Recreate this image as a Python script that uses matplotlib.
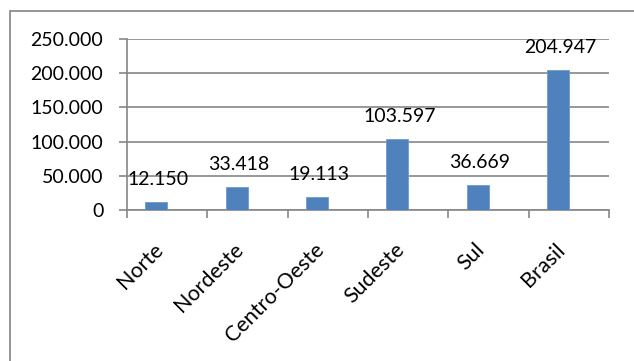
import numpy as np
import matplotlib.pyplot as plt
import matplotlib.transforms as mtransforms
from matplotlib.patches import Rectangle

regioes = ["Norte", "Nordeste", "Centro-Oeste", "Sudeste", "Sul", "Brasil"]
valores = [12150, 33418, 19113, 103597, 36669, 204947]
rotulos = ["12.150", "33.418", "19.113", "103.597", "36.669", "204.947"]
y_ticks = [0, 50000, 100000, 150000, 200000, 250000]
y_labels = ["0", "50.000", "100.000", "150.000", "200.000", "250.000"]

plt.rcParams["font.family"] = ["Lato", "DejaVu Sans"]
FS = 14

fig = plt.figure(figsize=(6.34, 3.61), dpi=100)
ax = fig.add_axes([127 / 634, 151 / 361, (609 - 127) / 634, 171 / 361])

# outer chart border (left and top visible)
fig.patches.append(Rectangle((10 / 634, -0.1), 1.2, 350 / 361 + 0.1,
                             transform=fig.transFigure, fill=False,
                             edgecolor="#8c8c8c", linewidth=1.3))

x = np.arange(len(regioes))
w = 0.27
ax.bar(x - w / 2, valores, width=w, color="#4F81BD", edgecolor="#6f9ad0",
       linewidth=0.6, zorder=3)

for xi, v, lab in zip(x, valores, rotulos):
    ax.annotate(lab, (xi - w / 2, v), xytext=(1.5, 12),
                textcoords="offset points", ha="center", va="baseline",
                fontsize=FS, color="black")

ax.set_xlim(-0.5, len(regioes) - 0.5)
ax.set_ylim(0, 250000)

ax.set_yticks(y_ticks)
ax.set_yticklabels(y_labels, fontsize=FS)
ax.yaxis.grid(True, color="#868686", linewidth=1.2, zorder=0)

# major ticks at category boundaries, labels at centers
ax.set_xticks(np.arange(len(regioes) + 1) - 0.5)
ax.set_xticklabels([])
ax.set_xticks(x, minor=True)
ax.set_xticklabels(regioes, minor=True, rotation=45, ha="right", va="top",
                   fontsize=15.5)
offset = mtransforms.ScaledTranslation(19 / 100, 0, fig.dpi_scale_trans)
for t in ax.get_xticklabels(minor=True):
    t.set_transform(t.get_transform() + offset)

ax.tick_params(axis="x", which="major", length=6, width=1.2, color="#868686")
ax.tick_params(axis="x", which="minor", length=0, pad=21)
ax.tick_params(axis="y", length=6, width=1.2, color="#868686", pad=11)

for s in ["top", "right"]:
    ax.spines[s].set_visible(False)
for s in ["left", "bottom"]:
    ax.spines[s].set_color("#868686")
    ax.spines[s].set_linewidth(1.2)
ax.set_axisbelow(True)

plt.savefig("out.png", dpi=100)
plt.close()
